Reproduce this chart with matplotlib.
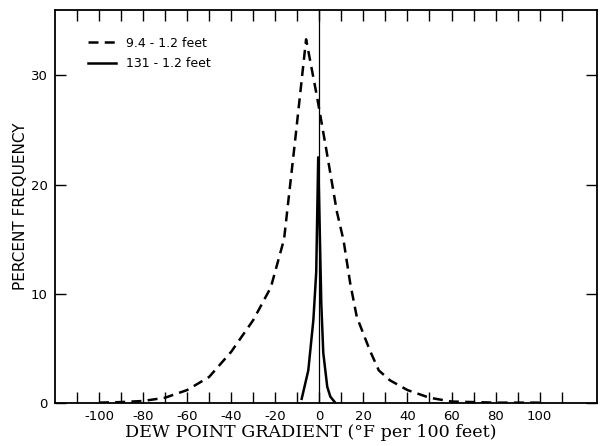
import matplotlib
matplotlib.use("Agg")
import matplotlib.pyplot as plt
import numpy as np

plt.rcParams['axes.unicode_minus'] = False

# 9.4 - 1.2 feet (dashed)
grad_low = [-100, -90, -80, -70, -60, -50, -40, -30, -22, -16, -11, -6, -1, 3, 8,
            11, 14, 17, 23, 27, 32, 40, 50, 60, 70, 80, 90, 100]
freq_low = [0.05, 0.1, 0.2, 0.5, 1.2, 2.4, 4.7, 7.6, 10.6, 15.0, 24.0, 33.3, 28.0, 23.4, 17.5,
            14.9, 11.0, 7.9, 4.8, 3.0, 2.1, 1.2, 0.5, 0.15, 0.1, 0.05, 0.05, 0.05]

# 131 - 1.2 feet (solid)
grad_high = [-8, -5, -2.7, -1.4, -0.5, 0.9, 1.8, 3.6, 5, 7]
freq_high = [0.4, 3.0, 7.6, 12.0, 22.5, 9.1, 4.6, 1.5, 0.6, 0.1]

xticks_major = np.arange(-100, 101, 20)
xticks_minor = np.arange(-110, 111, 10)
yticks = [0, 10, 20, 30]

fig = plt.figure(figsize=(6.03, 4.46), dpi=100)
ax = fig.add_subplot(111)
fig.subplots_adjust(left=0.091, right=0.990, top=0.978, bottom=0.096)

ax.plot(grad_low, freq_low, color='black', lw=1.8, linestyle=(0, (4, 2.5)),
        label='9.4 - 1.2 feet')
ax.plot(grad_high, freq_high, color='black', lw=1.8, label='131 - 1.2 feet')
ax.axvline(0, color='black', lw=0.9)

ax.set_xlim(-120, 126)
ax.set_ylim(0, 36)

ax.set_xticks(xticks_major)
ax.set_xticks(xticks_minor, minor=True)
ax.set_xticklabels([str(v) for v in xticks_major])
ax.set_yticks(yticks)
ax.set_yticklabels([str(v) for v in yticks])
ax.tick_params(which='both', direction='in', length=8, width=1.0,
               top=True, right=True, labelsize=9.5, pad=5)

for s in ax.spines.values():
    s.set_linewidth(1.3)

ax.set_xlabel('DEW POINT GRADIENT (°F per 100 feet)', family='DejaVu Serif',
              fontsize=12.6)
ax.xaxis.set_label_coords(0.472, -0.054)
ax.set_ylabel('PERCENT FREQUENCY', fontsize=11, labelpad=2)

ax.legend(loc='upper left', bbox_to_anchor=(0.052, 0.944), borderaxespad=0,
          frameon=False, fontsize=9, handlelength=2.2,
          handletextpad=0.8, labelspacing=0.6)

fig.savefig('out.png', dpi=100)
